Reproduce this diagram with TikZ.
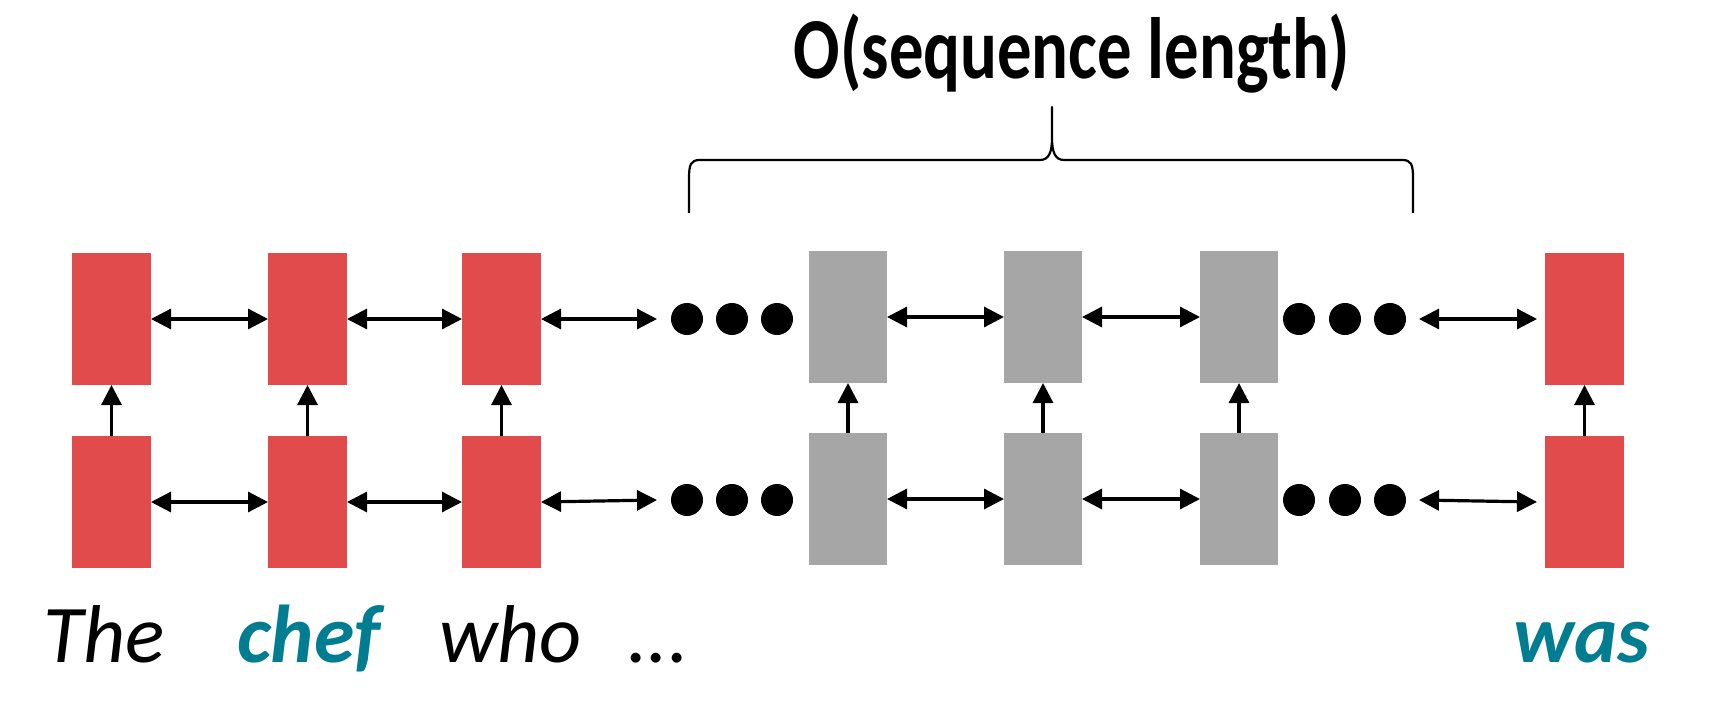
\documentclass[tikz,border=0pt]{standalone}
\usepackage{fontspec}
\setmainfont{Carlito}
\usetikzlibrary{arrows.meta}
\definecolor{boxred}{RGB}{226,75,75}
\definecolor{boxgray}{RGB}{166,166,166}
\definecolor{wordteal}{RGB}{0,125,145}
\begin{document}
\begin{tikzpicture}[x=1pt,y=-1pt,
  cell/.style={minimum width=79pt, minimum height=132pt, inner sep=0pt, outer sep=0pt, anchor=north west},
  redcell/.style={cell, fill=boxred},
  graycell/.style={cell, fill=boxgray, minimum width=78pt},
  blob/.style={circle, fill=black, minimum size=32pt, inner sep=0pt, outer sep=0pt},
  link/.style={line width=3.2pt, {Triangle[length=20pt,width=20pt]}-{Triangle[length=20pt,width=20pt]}},
  upward/.style={line width=3.2pt, -{Triangle[length=20pt,width=20pt]}},
  word/.style={anchor=base west, inner sep=0pt, font=\fontsize{82}{90}\selectfont\itshape},
  brace/.style={line width=2.2pt, line join=round}
]
\useasboundingbox (0,0) rectangle (1712,708);

% top row
\node[redcell] (t1) at (72,253) {};
\node[redcell] (t2) at (268,253) {};
\node[redcell] (t3) at (462,253) {};
\node[graycell] (t4) at (809,251) {};
\node[graycell] (t5) at (1004,251) {};
\node[graycell] (t6) at (1200,251) {};
\node[redcell] (t7) at (1545,253) {};
% bottom row
\node[redcell] (b1) at (72,436) {};
\node[redcell] (b2) at (268,436) {};
\node[redcell] (b3) at (462,436) {};
\node[graycell] (b4) at (809,433) {};
\node[graycell] (b5) at (1004,433) {};
\node[graycell] (b6) at (1200,433) {};
\node[redcell] (b7) at (1545,436) {};

% dots
\foreach \n/\x in {1/687,2/732,3/777,4/1299,5/1345,6/1390}{
  \node[blob] (td\n) at (\x,319) {};
  \node[blob] (bd\n) at (\x,500) {};
}

% horizontal links
\foreach \r in {t,b}{
  \draw[link] (\r1.east) -- (\r2.west);
  \draw[link] (\r2.east) -- (\r3.west);
  \draw[link] (\r3.east) -- ([xshift=-14pt]\r d1.west);
  \draw[link] (\r4.east) -- (\r5.west);
  \draw[link] (\r5.east) -- (\r6.west);
  \draw[link] ([xshift=13pt]\r d6.east) -- ([xshift=-8pt]\r7.west);
}
% vertical links
\foreach \i in {1,...,7}{
  \draw[upward] (b\i.north) -- (t\i.south);
}

% brace
\coordinate (brL) at (689,213);
\coordinate (brR) at (1413,213);
\coordinate (brT) at (1052,107);
\draw[brace] (brL) -- (689,178) .. controls (689,164) and (691,160) .. (700,160)
  -- (1040,160) .. controls (1049,160) and (1052,152) .. (1052,138) -- (brT)
  -- (1052,138) .. controls (1052,152) and (1055,160) .. (1064,160)
  -- (1402,160) .. controls (1411,160) and (1413,164) .. (1413,178) -- (brR);

% title
\node[anchor=base, inner sep=0pt, font=\fontsize{87}{96}\selectfont\bfseries] (title) at (1072,79) {\scalebox{0.79}[1]{O(sequence length)}};

% words
\node[word] (w1) at (43,662) {The};
\node[word, font=\fontsize{82}{90}\selectfont\bfseries\itshape, text=wordteal] (w2) at (237,662) {chef};
\node[word] (w3) at (439,662) {who};
\node[word] (w4) at (627,662) {...};
\node[word, font=\fontsize{82}{90}\selectfont\bfseries\itshape, text=wordteal] (w5) at (1513,662) {was};
\end{tikzpicture}
\end{document}
